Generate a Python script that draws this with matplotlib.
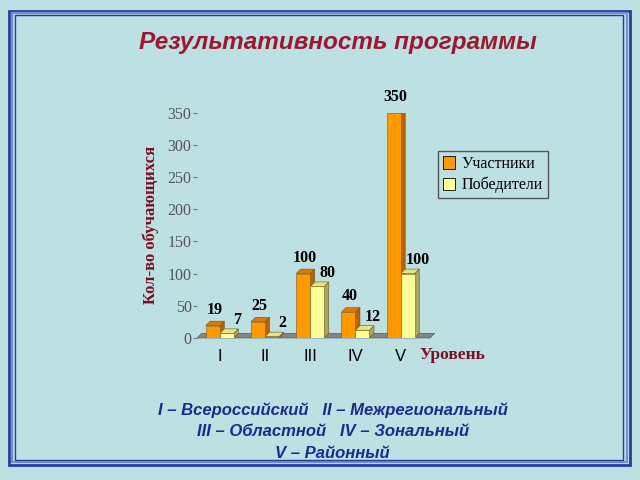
import matplotlib.pyplot as plt
from matplotlib.patches import Polygon, Rectangle

levels = ["I", "II", "III", "IV", "V"]
participants = [19, 25, 100, 40, 350]
winners = [7, 2, 80, 12, 100]
series_names = ["Участники", "Победители"]
y_ticks = [0, 50, 100, 150, 200, 250, 300, 350]

title = "Результативность программы"
notes = [
    "I – Всероссийский   II – Межрегиональный",
    "III – Областной   IV – Зональный",
    "V – Районный",
]

BG = "#bde0e3"
ORANGE = ("#ff9900", "#b86400", "#e07a00")
YELLOW = ("#ffff99", "#a8a860", "#e6e680")
DX, DY = 0.1, 7.0


def bar3d(ax, x, w, h, colors):
    front, side, top = colors
    ax.bar(x, h, width=w, color=front, edgecolor="#7a5a20", linewidth=0.4, zorder=3)
    r, l = x + w / 2, x - w / 2
    ax.add_patch(Polygon([(r, 0), (r + DX, DY), (r + DX, h + DY), (r, h)],
                         closed=True, facecolor=side, edgecolor="#6a5020", linewidth=0.4, zorder=2))
    ax.add_patch(Polygon([(l, h), (l + DX, h + DY), (r + DX, h + DY), (r, h)],
                         closed=True, facecolor=top, edgecolor="#6a5020", linewidth=0.4, zorder=2))


fig = plt.figure(figsize=(6.4, 4.8), dpi=100, facecolor=BG)

# slide frame
for inset, col, lw in [(0.014, "#2a3b9c", 2.0), (0.019, "#6f8fd8", 1.6), (0.024, "#2a3b9c", 1.0)]:
    fig.add_artist(Rectangle((inset, inset + 0.018), 1 - 2 * inset - 0.002, 1 - 2 * inset - 0.026,
                             transform=fig.transFigure, fill=False, edgecolor=col, linewidth=lw))

fig.text(0.528, 0.912, title, ha="center", va="center", fontsize=17.5, fontweight="bold",
         fontstyle="italic", color="#9b1830", family="Liberation Sans")
for i, line in enumerate(notes):
    fig.text(0.52, 0.145 - i * 0.045, line, ha="center", va="center", fontsize=12,
             fontweight="bold", fontstyle="italic", color="#1c2a8c", family="Liberation Sans")

ax = fig.add_axes([0.308, 0.296, 0.364, 0.469])
ax.set_facecolor("none")
ax.set_xlim(-0.5, 4.65)
ax.set_ylim(0, 350)
for s in ax.spines.values():
    s.set_visible(False)

# floor
ax.add_patch(Polygon([(-0.5, 0), (-0.5 + DX, DY), (4.65 + DX, DY), (4.65, 0)], closed=True,
                     facecolor="#858585", edgecolor="#666666", linewidth=0.6, zorder=1, clip_on=False))

w = 0.31
for i in range(len(levels)):
    bar3d(ax, i - w / 2, w, participants[i], ORANGE)
    bar3d(ax, i + w / 2, w, winners[i], YELLOW)
    ax.text(i - w / 2 + 0.04, participants[i] + 12, str(participants[i]), ha="center", va="bottom",
            fontsize=11.5, fontweight="bold", family="Liberation Serif", clip_on=False)
    ax.text(i + w / 2 + 0.22, winners[i] + 8, str(winners[i]), ha="center", va="bottom",
            fontsize=11.5, fontweight="bold", family="Liberation Serif", clip_on=False)

ax.set_xticks(range(len(levels)))
ax.set_xticklabels(levels, fontsize=12, family="Liberation Sans")
ax.tick_params(axis="x", length=0, pad=8)
ax.set_yticks(y_ticks)
ax.set_yticklabels([str(v) for v in y_ticks], fontsize=11.5, family="Liberation Serif", color="#555555")
ax.tick_params(axis="y", length=3, color="#777777", pad=1)

ax.set_ylabel("Кол-во обучающихся", fontsize=12, fontweight="bold", family="Liberation Serif",
              color="#7a1020", labelpad=6)
fig.text(0.655, 0.26, "Уровень", fontsize=12.5, fontweight="bold", family="Liberation Serif",
         color="#7a1020", va="center")

handles = [Rectangle((0, 0), 1, 1, facecolor=ORANGE[0], edgecolor="black", linewidth=0.6),
           Rectangle((0, 0), 1, 1, facecolor=YELLOW[0], edgecolor="black", linewidth=0.6)]
leg = fig.legend(handles, series_names, loc="upper left", bbox_to_anchor=(0.684, 0.685),
                 frameon=True, fancybox=False, edgecolor="#555555", facecolor=BG, framealpha=1,
                 prop={"family": "Liberation Serif", "size": 11.5}, handlelength=0.8, handleheight=0.8,
                 handletextpad=0.4, borderpad=0.3, labelspacing=0.3, borderaxespad=0)

fig.savefig("out.png", dpi=100, facecolor=BG)
